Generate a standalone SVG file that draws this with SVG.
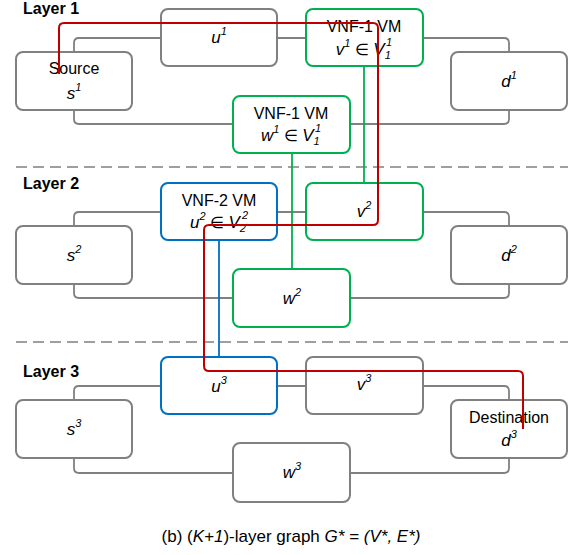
<svg xmlns="http://www.w3.org/2000/svg" width="572" height="555" viewBox="0 0 572 555">
  <style>
    .box { fill: #ffffff; stroke: #808080; stroke-width: 2; }
    .box.green { stroke: #00b050; }
    .box.blue { stroke: #0070c0; }
    .link { fill: none; stroke: #808080; stroke-width: 1.8; }
    .g { fill: none; stroke: #00b050; stroke-width: 1.8; }
    .b { fill: none; stroke: #0070c0; stroke-width: 1.8; }
    .path { fill: none; stroke: #c00000; stroke-width: 2; }
    .sep { stroke: #808080; stroke-width: 1.6; stroke-dasharray: 11 6; }
    text { font-family: "Liberation Sans", Arial, sans-serif; fill: #000000; }
    .layer { font-size: 16px; font-weight: bold; }
    .lbl { font-size: 16px; text-anchor: middle; }
    .var { font-size: 17px; font-style: italic; text-anchor: middle; }
    .i { font-style: italic; }
    .s { font-size: 11px; font-style: italic; }
    .cap { font-size: 17px; text-anchor: middle; }
  </style>

  <!-- layer separators -->
  <line class="sep" x1="16" y1="167" x2="568" y2="167"/>
  <line class="sep" x1="16" y1="342" x2="568" y2="342"/>

  <text class="layer" x="23" y="14">Layer 1</text>
  <text class="layer" x="23" y="189">Layer 2</text>
  <text class="layer" x="23" y="377">Layer 3</text>

  <!-- ring links inside each layer -->
  <g id="ring-links">
    <path class="link" d="M74,52 V43 Q74,38 79,38 H161 M277,38 H306 M423,38 H504 Q509,38 509,43 V52"/>
    <path class="link" d="M74,110 V119 Q74,124 79,124 H233 M350,124 H504 Q509,124 509,119 V110"/>
    <path class="link" d="M74,226 V217 Q74,212 79,212 H161 M277,212 H306 M423,212 H504 Q509,212 509,217 V226"/>
    <path class="link" d="M74,284 V293 Q74,298 79,298 H233 M350,298 H504 Q509,298 509,293 V284"/>
    <path class="link" d="M74,400 V391 Q74,386 79,386 H161 M277,386 H306 M423,386 H504 Q509,386 509,391 V400"/>
    <path class="link" d="M74,458 V468 Q74,473 79,473 H233 M350,473 H504 Q509,473 509,468 V458"/>
  </g>

  <!-- layer 1 nodes -->
  <g id="s1">
    <rect class="box" x="16" y="52" width="116" height="58" rx="7"/>
    <text class="lbl" x="74" y="74">Source</text>
    <text class="var" x="74" y="99">s<tspan class="s" dy="-8">1</tspan></text>
  </g>
  <g id="u1">
    <rect class="box" x="161" y="9" width="116" height="57" rx="7"/>
    <text class="var" x="219" y="43">u<tspan class="s" dy="-8">1</tspan></text>
  </g>
  <g id="v1">
    <rect class="box green" x="306" y="9" width="117" height="57" rx="7"/>
    <text class="lbl" x="364" y="32">VNF-1 VM</text>
    <text class="lbl" x="364" y="55"><tspan class="i" font-size="17">v</tspan><tspan class="s" dy="-8">1</tspan><tspan dy="8"> ∈ </tspan><tspan class="i" font-size="17">V</tspan><tspan class="s" dy="4">1</tspan><tspan class="s" dx="-4" dy="-13">1</tspan></text>
  </g>
  <g id="w1">
    <rect class="box green" x="233" y="96" width="117" height="57" rx="7"/>
    <text class="lbl" x="291" y="119">VNF-1 VM</text>
    <text class="lbl" x="291" y="141"><tspan class="i" font-size="17">w</tspan><tspan class="s" dy="-8">1</tspan><tspan dy="8"> ∈ </tspan><tspan class="i" font-size="17">V</tspan><tspan class="s" dy="4">1</tspan><tspan class="s" dx="-4" dy="-13">1</tspan></text>
  </g>
  <g id="d1">
    <rect class="box" x="451" y="52" width="116" height="58" rx="7"/>
    <text class="var" x="509" y="87">d<tspan class="s" dy="-8">1</tspan></text>
  </g>

  <!-- layer 2 nodes -->
  <g id="s2">
    <rect class="box" x="16" y="226" width="116" height="58" rx="7"/>
    <text class="var" x="74" y="261">s<tspan class="s" dy="-8">2</tspan></text>
  </g>
  <g id="u2">
    <rect class="box blue" x="161" y="183" width="116" height="57" rx="7"/>
    <text class="lbl" x="219" y="206">VNF-2 VM</text>
    <text class="lbl" x="219" y="228"><tspan class="i" font-size="17">u</tspan><tspan class="s" dy="-8">2</tspan><tspan dy="8"> ∈ </tspan><tspan class="i" font-size="17">V</tspan><tspan class="s" dy="4">2</tspan><tspan class="s" dx="-4" dy="-13">2</tspan></text>
  </g>
  <g id="v2">
    <rect class="box green" x="306" y="183" width="117" height="57" rx="7"/>
    <text class="var" x="364" y="217">v<tspan class="s" dy="-8">2</tspan></text>
  </g>
  <g id="w2">
    <rect class="box green" x="233" y="269" width="117" height="58" rx="7"/>
    <text class="var" x="292" y="304">w<tspan class="s" dy="-8">2</tspan></text>
  </g>
  <g id="d2">
    <rect class="box" x="451" y="226" width="116" height="58" rx="7"/>
    <text class="var" x="509" y="261">d<tspan class="s" dy="-8">2</tspan></text>
  </g>

  <!-- layer 3 nodes -->
  <g id="s3">
    <rect class="box" x="16" y="400" width="116" height="58" rx="7"/>
    <text class="var" x="74" y="435">s<tspan class="s" dy="-8">3</tspan></text>
  </g>
  <g id="u3">
    <rect class="box blue" x="161" y="357" width="116" height="57" rx="7"/>
    <text class="var" x="219" y="392">u<tspan class="s" dy="-8">3</tspan></text>
  </g>
  <g id="v3">
    <rect class="box" x="306" y="357" width="117" height="57" rx="7"/>
    <text class="var" x="364" y="390">v<tspan class="s" dy="-8">3</tspan></text>
  </g>
  <g id="w3">
    <rect class="box" x="233" y="443" width="117" height="59" rx="7"/>
    <text class="var" x="292" y="478">w<tspan class="s" dy="-8">3</tspan></text>
  </g>
  <g id="d3">
    <rect class="box" x="451" y="400" width="116" height="58" rx="7"/>
    <text class="lbl" x="509" y="423">Destination</text>
    <text class="var" x="509" y="446">d<tspan class="s" dy="-8">3</tspan></text>
  </g>

  <!-- inter-layer links and the routed path -->
  <g id="connectors">
    <line class="g" x1="364" y1="66" x2="364" y2="183"/>
    <line class="g" x1="292" y1="153" x2="292" y2="269"/>
    <line class="b" x1="219" y1="240" x2="219" y2="357"/>
    <path class="path" d="M59,74 V28 Q59,23 64,23 H373 Q378,23 378,28 V220 Q378,225 373,225 H209 Q204,225 204,230 V366 Q204,371 209,371 H518 Q523,371 523,376 V429"/>
  </g>

  <text class="cap" x="291" y="542">(b) (<tspan class="i">K+1</tspan>)-layer graph <tspan class="i">G* = (V*, E*)</tspan></text>
</svg>
